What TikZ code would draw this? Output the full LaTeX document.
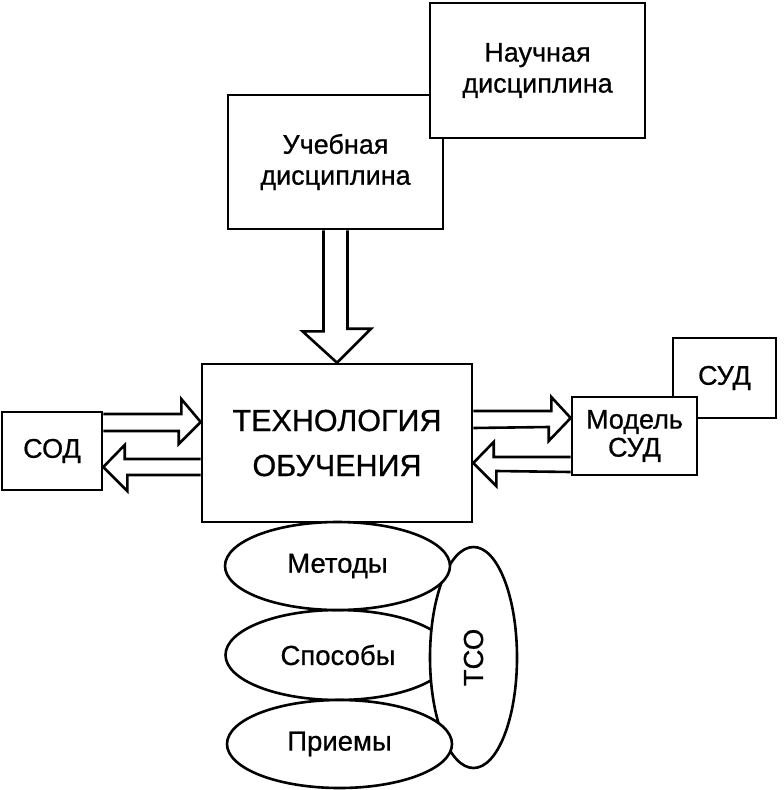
\documentclass[tikz,border=0pt]{standalone}
\usepackage{fontspec}
\setmainfont[FakeBold=0.7]{Liberation Sans}
\usetikzlibrary{calc,shapes.geometric}
\begin{document}
\begin{tikzpicture}[x=1pt,y=-1pt,line width=2.6pt,line join=miter,
  box/.style={draw,fill=white,rectangle,inner sep=0pt,align=center,font=\fontsize{27}{31}\selectfont},
  oval/.style={draw,fill=white,ellipse,inner sep=0pt,font=\fontsize{27.5}{31}\selectfont}]
\useasboundingbox (0,0) rectangle (784,790);
% top boxes
\node[box,minimum width=215pt,minimum height=134pt] (ucheb) at (335.5,162) {Учебная\\дисциплина};
\node[box,minimum width=215pt,minimum height=135pt] (nauch) at (537.5,70.5) {Научная\\дисциплина};
% central box
\node[box,minimum width=270pt,minimum height=158pt,font=\fontsize{30.5}{45}\selectfont] (tech) at (337,443) {ТЕХНОЛОГИЯ\\ОБУЧЕНИЯ};
% left box
\node[box,minimum width=100pt,minimum height=78pt] (sod) at (52,451) {СОД};
% right boxes
\node[box,minimum width=103pt,minimum height=80pt] (sud) at (724.5,378) {СУД};
\node[box,minimum width=125pt,minimum height=78pt,font=\fontsize{27}{28}\selectfont] (model) at (634.5,436) {Модель\\СУД};
% block arrows
\draw ($(ucheb.south)+(-12,0)$) -- ++(0,101) -- ++(-21,0) -- (tech.north) -- ++(34,-34) -- ++(-23.5,0) -- ($(ucheb.south)+(12,0)$);
\draw ($(sod.east)+(0,-37)$) -- ++(78,0) -- ++(0,-15) -- ($(tech.west)+(0,-21)$) -- ++(-22,22) -- ++(0,-13) -- ($(sod.east)+(0,-20)$);
\draw ($(tech.west)+(0,16)$) -- ++(-76,0) -- ++(0,-14) -- ($(sod.east)+(0,16)$) -- ++(24,24) -- ++(0,-16) -- ($(tech.west)+(0,32)$);
\draw ($(tech.east)+(0,-32)$) -- ++(78,0) -- ++(0,-14) -- ($(model.west)+(0,-18)$) -- ++(-22,23) -- ++(0,-14) -- ($(tech.east)+(0,-15)$);
\draw ($(model.west)+(0,21)$) -- ++(-77,0) -- ++(0,-15) -- ($(tech.east)+(0,20)$) -- ++(23,23) -- ++(0,-15) -- ($(model.west)+(0,36)$);
% ovals
\node[oval,minimum width=225pt,minimum height=90pt] (sposob) at (338,655) {Способы};
\node[oval,minimum width=87pt,minimum height=221pt] (tso) at (473.5,657.5) {};
\node[rotate=90,font=\fontsize{27.5}{31}\selectfont] (tsotext) at (tso.center) {ТСО};
\node[oval,minimum width=225pt,minimum height=88pt] (metod) at (337.5,566) {Методы};
\node[oval,minimum width=225pt,minimum height=88pt] (priem) at (339.5,744) {Приемы};
\end{tikzpicture}
\end{document}
